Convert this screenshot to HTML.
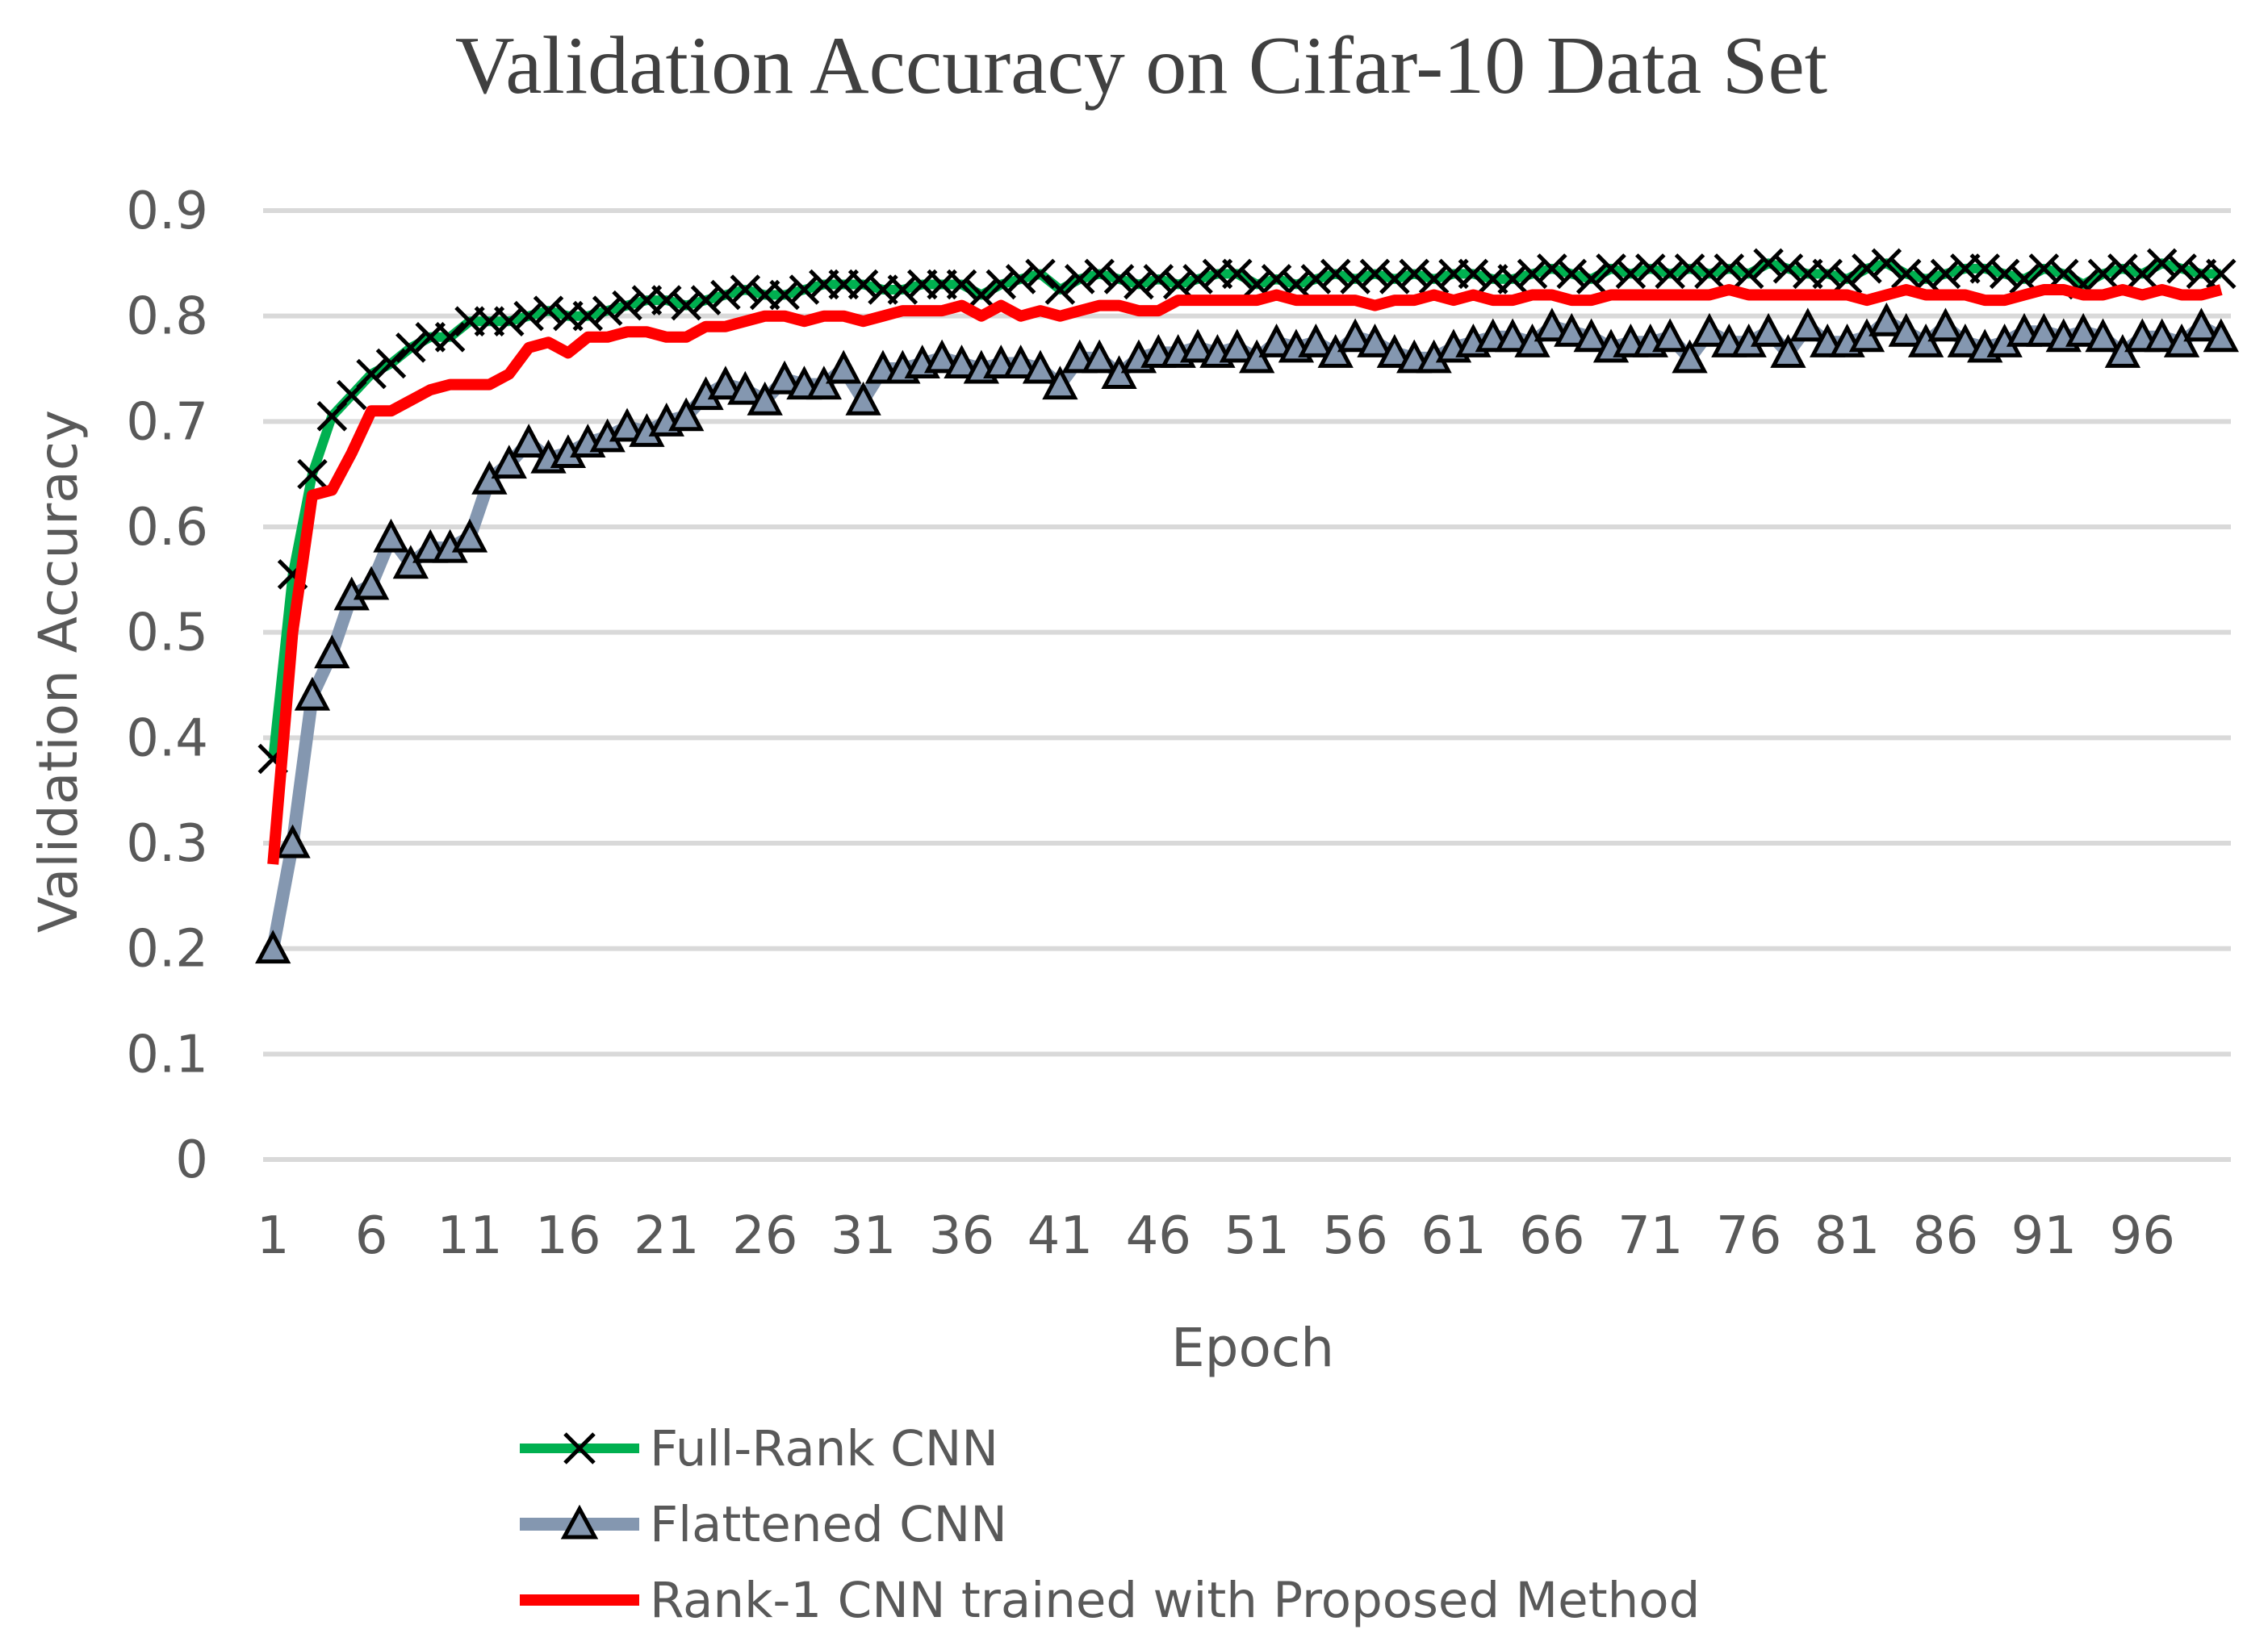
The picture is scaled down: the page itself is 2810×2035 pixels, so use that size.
<!DOCTYPE html>
<html><head><meta charset="utf-8"><style>
html,body{margin:0;padding:0;background:#fff;}
svg{display:block;}
text{font-family:"DejaVu Sans","Liberation Sans",sans-serif;fill:#595959;}
</style></head><body>
<svg id="chart" width="2810" height="2035" viewBox="0 0 2810 2035" xmlns="http://www.w3.org/2000/svg">
<text x="1414" y="115" text-anchor="middle" style="font-family:'Liberation Serif',serif;font-size:102px;fill:#404040">Validation Accuracy on Cifar-10 Data Set</text>
<g id="grid"></g>
<g id="yticks"></g>
<g id="xticks"></g>
<text transform="translate(95,832) rotate(-90)" text-anchor="middle" style="font-size:66px">Validation Accuracy</text>
<text x="1552" y="1693" text-anchor="middle" style="font-size:66px">Epoch</text>
<g id="series"></g>
<g>
 <g>
  <line x1="644" y1="1795" x2="792" y2="1795" stroke="#00b050" stroke-width="12"/>
  <path d="M700,1777 L736,1813 M700,1813 L736,1777" stroke="#000" stroke-width="5"/>
  <text x="805" y="1816" style="font-size:61px">Full-Rank CNN</text>
 </g>
 <g>
  <line x1="644" y1="1889" x2="792" y2="1889" stroke="#8497b0" stroke-width="16"/>
  <path d="M718,1870 L737,1905 L699,1905 Z" fill="#8497b0" stroke="#000" stroke-width="5"/>
  <text x="805" y="1910" style="font-size:61px">Flattened CNN</text>
 </g>
 <g>
  <line x1="644" y1="1983" x2="792" y2="1983" stroke="#ff0000" stroke-width="14"/>
  <text x="805" y="2004" style="font-size:61px">Rank-1 CNN trained with Proposed Method</text>
 </g>
</g>
</svg>
<script>
const yTicks=[0,0.1,0.2,0.3,0.4,0.5,0.6,0.7,0.8,0.9];
const fullRank=[.38,.555,.65,.705,.725,.745,.755,.77,.78,.78,
.795,.795,.795,.80,.805,.80,.80,.805,.81,.815,
.815,.81,.815,.82,.825,.82,.82,.825,.83,.83,
.83,.825,.825,.83,.83,.83,.82,.83,.835,.84,
.825,.835,.84,.835,.83,.835,.83,.835,.84,.84,
.83,.835,.83,.835,.84,.835,.84,.835,.84,.835,
.84,.84,.835,.835,.84,.845,.84,.835,.845,.84,
.845,.84,.845,.84,.845,.84,.85,.845,.84,.84,
.835,.845,.85,.84,.835,.84,.845,.845,.84,.835,
.845,.84,.83,.84,.845,.84,.85,.845,.84,.84];
const flattened=[.20,.30,.44,.48,.535,.545,.59,.565,.58,.58,
.59,.645,.66,.68,.665,.67,.68,.685,.695,.69,
.70,.705,.725,.735,.73,.72,.74,.735,.735,.75,
.72,.75,.75,.755,.76,.755,.75,.755,.755,.75,
.735,.76,.76,.745,.76,.765,.765,.77,.765,.77,
.76,.775,.77,.775,.765,.78,.775,.765,.76,.76,
.77,.775,.78,.78,.775,.79,.785,.78,.77,.775,
.775,.78,.76,.785,.775,.775,.785,.765,.79,.775,
.775,.78,.795,.785,.775,.79,.775,.77,.775,.785,
.785,.78,.785,.78,.765,.78,.78,.775,.79,.78];
const rank1=[.28,.50,.63,.635,.67,.71,.71,.72,.73,.735,
.735,.735,.745,.77,.775,.765,.78,.78,.785,.785,
.78,.78,.79,.79,.795,.80,.80,.795,.80,.80,
.795,.80,.805,.805,.805,.81,.80,.81,.80,.805,
.80,.805,.81,.81,.805,.805,.815,.815,.815,.815,
.815,.82,.815,.815,.815,.815,.81,.815,.815,.82,
.815,.82,.815,.815,.82,.82,.815,.815,.82,.82,
.82,.82,.82,.82,.825,.82,.82,.82,.82,.82,
.82,.815,.82,.825,.82,.82,.82,.815,.815,.82,
.825,.825,.82,.82,.825,.82,.825,.82,.82,.825];
const NS='http://www.w3.org/2000/svg';
const L=326,R=2764,T=261,B=1437;
const n=fullRank.length;
const xs=i=>L+(i+0.5)*(R-L)/n;
const ys=v=>B-(v/0.9)*(B-T);
function mk(tag,attrs,parent){const e=document.createElementNS(NS,tag);for(const k in attrs)e.setAttribute(k,attrs[k]);parent.appendChild(e);return e;}
const grid=document.getElementById('grid'),yt=document.getElementById('yticks'),xt=document.getElementById('xticks'),sg=document.getElementById('series');
yTicks.forEach(v=>{
 const l=mk('line',{x1:L,x2:R,y1:ys(v),y2:ys(v),stroke:'#d9d9d9','stroke-width':6},grid);
 
 
 const t=mk('text',{x:258,y:ys(v)+22,'text-anchor':'end','font-size':64},yt);
 
 
 t.textContent=String(v);
});
for(let i=0;i<n;i+=5){
 const t=mk('text',{x:xs(i),y:1553,'text-anchor':'middle','font-size':64},xt);
 
 
 t.textContent=String(i+1);
}
function pts(arr){return arr.map((v,i)=>xs(i).toFixed(1)+','+ys(v).toFixed(1)).join(' ');}
const fl=mk('polyline',{points:pts(flattened),fill:'none',stroke:'#8497b0','stroke-width':16,'stroke-linejoin':'round'},sg);


flattened.forEach((v,i)=>{const x=xs(i),y=ys(v);
 const p=mk('path',{d:`M${x},${y-18} L${x+18},${y+16} L${x-18},${y+16} Z`,fill:'#8497b0',stroke:'#000','stroke-width':5},sg);
 
 
});
const fr=mk('polyline',{points:pts(fullRank),fill:'none',stroke:'#00b050','stroke-width':12,'stroke-linejoin':'round'},sg);


fullRank.forEach((v,i)=>{const x=xs(i),y=ys(v);
 const p=mk('path',{d:`M${x-17},${y-17} L${x+17},${y+17} M${x-17},${y+17} L${x+17},${y-17}`,stroke:'#000','stroke-width':5},sg);
 
 
});
const r1=mk('polyline',{points:pts(rank1),fill:'none',stroke:'#ff0000','stroke-width':14,'stroke-linejoin':'round'},sg);


</script>
</body></html>
